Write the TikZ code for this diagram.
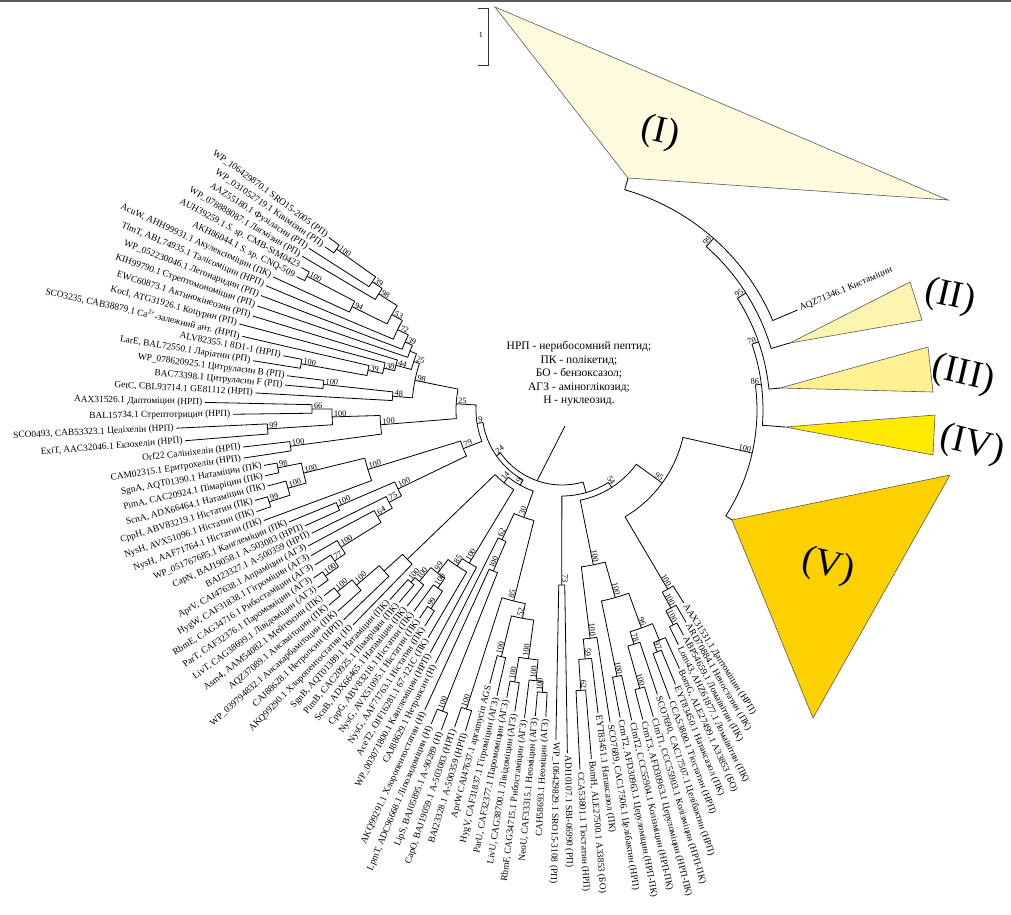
\documentclass[tikz,border=0pt]{standalone}
\usepackage{fontspec}
\setmainfont{Liberation Serif}
\def\setA#1#2{\expandafter\xdef\csname tA@#1\endcsname{#2}}
\def\setR#1#2{\expandafter\xdef\csname tR@#1\endcsname{#2}}
\def\getA#1{\csname tA@#1\endcsname}
\def\getR#1{\csname tR@#1\endcsname}
\tikzset{
  br/.style={draw=black, line width=0.8pt, line join=round},
  leaf/.style={font=\fontsize{9.4}{11}\selectfont, inner sep=0pt},
  bs/.style={font=\fontsize{8.3}{9}\selectfont, inner sep=0.3pt},
  clade/.style={draw=black!65, line width=0.6pt},
  cladelab/.style={font=\fontsize{38}{40}\selectfont, rotate=-13},
}
% leaf: name, index, tip radius, side, text
\newcommand\lf[5]{%
  \pgfmathsetmacro\lfA{143.5+(#2-1)*1.96}%
  \pgfmathsetmacro\lfR{#3+2.5}%
  \setA{#1}{\lfA}\setR{#1}{#3}%
  \if L#4%
    \pgfmathsetmacro\lfRot{\lfA-180}%
    \node[leaf,anchor=east,rotate=\lfRot] (#1) at (\lfA:\lfR) {#5};%
  \else
    \node[leaf,anchor=west,rotate=\lfA] (#1) at (\lfA:\lfR) {#5};%
  \fi}
% internal node: name, child1, child2, radius, bootstrap, side
\newcommand\nd[6]{%
  \edef\ndA{\getA{#2}}\edef\ndB{\getA{#3}}%
  \edef\ndRa{\getR{#2}}\edef\ndRb{\getR{#3}}%
  \pgfmathsetmacro\ndM{(\ndA+\ndB)/2}%
  \setA{#1}{\ndM}\setR{#1}{#4}%
  \draw[br] (\ndA:\ndRa) -- (\ndA:#4) arc[start angle=\ndA, end angle=\ndB, radius=#4pt] -- (\ndB:\ndRb);%
  \coordinate (#1) at (\ndM:#4);%
  \pgfmathsetmacro\ndL{#4-1.5}%
  \if L#6%
    \pgfmathsetmacro\ndRot{\ndM-180}%
    \node[bs,anchor=south west,rotate=\ndRot] (#1b) at (\ndM:\ndL) {#5};%
  \else
    \node[bs,anchor=south east,rotate=\ndM] (#1b) at (\ndM:\ndL) {#5};%
  \fi}
\begin{document}
\begin{tikzpicture}[x=1pt,y=1pt]
\useasboundingbox (-562,-504) rectangle (449,410);
\fill[white] (-562,-504) rectangle (449,410);
\fill[black!65] (-562,407.8) rectangle (449,410);
% collapsed clades
\draw[clade, fill={rgb,255:red,254;green,250;blue,222}] (66,232) -- (-67,403) -- (386,210) -- cycle;
\draw[clade, fill={rgb,255:red,255;green,243;blue,176}] (228,67) -- (348,128) -- (360,90) -- cycle;
\draw[clade, fill={rgb,255:red,255;green,240;blue,145}] (218,22) -- (366,63) -- (371,18) -- cycle;
\draw[clade, fill={rgb,255:red,255;green,234;blue,0}] (223,-17) -- (373,-5) -- (371,-45) -- cycle;
\draw[clade, fill={rgb,255:red,253;green,208;blue,0}] (170,-110) -- (388,-65) -- (251,-308) -- cycle;
\node[cladelab] (labI) at (98,277) {(I)};
\node[cladelab] (labII) at (388,113) {(II)};
\node[cladelab] (labIII) at (401,35) {(III)};
\node[cladelab] (labIV) at (410,-35) {(IV)};
\node[cladelab] (labV) at (266,-157) {(V)};
% scale bar
\draw[black!80, line width=0.7pt] (-84,402) -- (-74,402) -- (-74,345) -- (-84,345);
\node[font=\fontsize{8}{9}\selectfont] (scale) at (-81,375) {1};
% legend
\node[align=center, font=\fontsize{11.5}{13.5}\selectfont] (legend) at (17,36)
  {НРП - нерибосомний пептид;\\ ПК - полікетид;\\ БО - бензоксазол;\\ АГЗ - аміноглікозид;\\ Н - нуклеозид.};
% leaves
\lf{l1}{1}{290}{L}{WP\_106429870.1 SRO15-2005 (РП)}
\lf{l2}{2}{288}{L}{WP\_031052719.1 Ківімізин (РП)}
\lf{l3}{3}{300}{L}{AAZ55180.1 Фузіласин (РП)}
\lf{l4}{4}{302}{L}{WP\_078888087.1 Лагмізин (РП)}
\lf{l5}{5}{297}{L}{AUH39259.1 \textit{S.} sp. CMB-StM0423}
\lf{l6}{6}{297}{L}{AKH86044.1 \textit{S.} sp. CNQ-509}
\lf{l7}{7}{318}{L}{AcuW, AHH99931.1 Акулексиміцин (ПК)}
\lf{l8}{8}{321}{L}{TlmT, ABL74935.1 Талісоміцин (НРП)}
\lf{l9}{9}{322}{L}{WP\_052230046.1 Легонаридин (РП)}
\lf{l10}{10}{322}{L}{KIH99790.1 Стрептомономіцин (РП)}
\lf{l11}{11}{323}{L}{EWC60873.1 Актинокінеозин (РП)}
\lf{l12}{12}{334}{L}{KocI, ATG31926.1 Коцурин (РП)}
\lf{l13}{13}{328}{L}{SCO3235, CAB38879.1 Ca\textsuperscript{2+}-залежний ант. (НРП)}
\lf{l14}{14}{284}{L}{ALV82355.1 8D1-1 (НРП)}
\lf{l15}{15}{313}{L}{LarE, BAL72550.1 Ларіатин (РП)}
\lf{l16}{16}{277}{L}{WP\_078620925.1 Цитруласин B (РП)}
\lf{l17}{17}{278}{L}{BAC73398.1 Цитруласин F (РП)}
\lf{l18}{18}{307}{L}{GetC, CBL93714.1 GE81112 (НРП)}
\lf{l19}{19}{357}{L}{AAX31526.1 Даптоміцин (НРП)}
\lf{l20}{20}{329}{L}{BAL15734.1 Стрептотрицин (НРП)}
\lf{l21}{21}{386}{L}{SCO0493, CAB53323.1 Целіхелін (НРП)}
\lf{l22}{22}{378}{L}{ExiT, AAC32046.1 Екзохелін (НРП)}
\lf{l23}{23}{321}{L}{Orf22 Салініхелін (НРП)}
\lf{l24}{24}{322}{L}{CAM02315.1 Еритрохелін (НРП)}
\lf{l25}{25}{303}{L}{SgnA, AQT01390.1 Натаміцин (ПК)}
\lf{l26}{26}{304}{L}{PimA, CAC20924.1 Пімаріцин (ПК)}
\lf{l27}{27}{304}{L}{ScnA, ADX66464.1 Натаміцин (ПК)}
\lf{l28}{28}{320}{L}{CppH, ABV83219.1 Ністатин (ПК)}
\lf{l29}{29}{322}{L}{NysH, AVX51096.1 Ністатин (ПК)}
\lf{l30}{30}{318}{L}{NysH, AAF71764.1 Ністатин (ПК)}
\lf{l31}{31}{295}{L}{WP\_051767685.1 Канглеміцин (ПК)}
\lf{l32}{32}{282}{L}{CapN, BAJ19058.1 A-503083 (НРП)}
\lf{l33}{33}{279}{L}{BAI23327.1 A-500359 (НРП)}
\lf{l34}{34}{288}{L}{AprV, CAI47638.1 Апраміцин (АГЗ)}
\lf{l35}{35}{290}{L}{HygW, CAF31838.1 Гігроміцин (АГЗ)}
\lf{l36}{36}{292}{L}{RbmE, CAG34716.1 Рибостаміцин (АГЗ)}
\lf{l37}{37}{300}{L}{ParT, CAF32376.1 Паромоміцин (АГЗ)}
\lf{l38}{38}{302}{L}{LivT, CAG38699.1 Лівідоміцин (АГЗ)}
\lf{l39}{39}{302}{L}{Asm4, AAM54082.1 Мейтензин (ПК)}
\lf{l40}{40}{304}{L}{AQZ37089.1 Ансамітоцин (ПК)}
\lf{l41}{41}{301}{L}{WP\_039794832.1 Ансакарбамітоцин (ПК)}
\lf{l42}{42}{303}{L}{CAJ88628.1 Нетропсин (НРП)}
\lf{l43}{43}{300}{L}{AKQ99290.1 Хлоропентостатин (Н)}
\lf{l44}{44}{256}{L}{SgnB, AQT01389.1 Натаміцин (ПК)}
\lf{l45}{45}{252}{L}{PimB, CAC20925.1 Пімаріцин (ПК)}
\lf{l46}{46}{250}{L}{ScnB, ADX66465.1 Натаміцин (ПК)}
\lf{l47}{47}{250}{L}{CppG, ABV83218.1 Ністатин (ПК)}
\lf{l48}{48}{252}{L}{NysG, AVX51095.1 Ністатин (ПК)}
\lf{l49}{49}{256}{L}{NysG, AAF71763.1 Ністатин (ПК)}
\lf{l50}{50}{264}{L}{AceT2, OJF16281.1 67-121C (ПК)}
\lf{l51}{51}{276}{L}{WP\_003071800.1 Канглеміцин (НРП)}
\lf{l52}{52}{283}{L}{CAJ88629.1 Нетропсин (Н)}
\lf{l53}{53}{330}{L}{AKQ99291.1 Хлоропентостатин (Н)}
\lf{l54}{54}{340}{L}{LpmT, ADC96668.1 Ліпозидоміцин (Н)}
\lf{l55}{55}{342}{L}{LipS, BAJ05895.1 A-90289 (Н)}
\lf{l56}{56}{335}{L}{CapO, BAJ19059.1 A-503083 (НРП)}
\lf{l57}{57}{335}{L}{BAI23328.1 A-500359 (НРП)}
\lf{l58}{58}{283}{L}{AprW CAI47637.1 apramycin AGS}
\lf{l59}{59}{293}{L}{HygV, CAF31837.1 Гігроміцин (АГЗ)}
\lf{l60}{60}{293}{L}{ParU, CAF32377.1 Паромоміцин (АГЗ)}
\lf{l61}{61}{305}{L}{LivU, CAG38700.1 Лівідоміцин (АГЗ)}
\lf{l62}{62}{310}{L}{RbmF, CAG34715.1 Рибостаміцин (АГЗ)}
\lf{l63}{63}{307}{L}{NeoU, CAF33315.1 Неоміцин (АГЗ)}
\lf{l64}{64}{307}{L}{CAH58693.1 Неоміцин (АГЗ)}
\lf{l65}{65}{330}{R}{WP\_106429829.1 SRO15-3108 (РП)}
\lf{l66}{66}{343}{R}{ADI10107.1 SBI-06990 (РП)}
\lf{l67}{67}{360}{R}{CCA53801.1 Тіостатин (НРП)}
\lf{l68}{68}{350}{R}{BomH, ALE27500.1 A33853 (БО)}
\lf{l69}{69}{305}{R}{EYT83451.1 Натаксазол (ПК)}
\lf{l70}{70}{316}{R}{SCO7689, CAC17506.1 Целібактин (НРП)}
\lf{l71}{71}{313}{R}{CrmT2, AFD30963.1 Церуломіцин (НРП-ПК)}
\lf{l72}{72}{318}{R}{ClmT2, CCC55904.1 Колізміцин (НРП-ПК)}
\lf{l73}{73}{320}{R}{CrmT3, AFD30963.1 Церуломіцин (НРП-ПК)}
\lf{l74}{74}{320}{R}{ClmT1, CCC55903.1 Колізміцин (НРП-ПК)}
\lf{l75}{75}{300}{R}{SCO7690, CAC17507.1 Целібактин (НРП)}
\lf{l76}{76}{309}{R}{CCA53800.1 Тіостатин (НРП)}
\lf{l77}{77}{297}{R}{EYT83450.1 Натаксазол (ПК)}
\lf{l78}{78}{284}{R}{BomG, ALE27499.1 A33853 (БО)}
\lf{l79}{79}{262}{R}{Lom43, AHZ61877.1 Ломаївітин (ПК)}
\lf{l80}{80}{256}{R}{ABP54659.1 Ломаївітин (ПК)}
\lf{l81}{81}{246}{R}{ARD70884.1 Неностатин (ПК)}
\lf{l82}{82}{228}{R}{AAX31531.1 Даптоміцин (НРП)}
\setA{aqz}{383}\setR{aqz}{256}
\node[leaf,anchor=west,rotate=23] (aqz) at (383:258.5) {AQZ71346.1 Кистаміцин};
\setA{cI}{434.1}\setR{cI}{241}
\setA{cII}{376.4}\setR{cII}{237.6}
\setA{cIII}{365.76}\setR{cIII}{219}
\setA{cIV}{355.64}\setR{cIV}{223.6}
\setA{cV}{327.1}\setR{cV}{202.5}
% top clade
\nd{a1}{l1}{l2}{277}{100}{L}
\nd{a2}{a1}{l3}{229}{39}{L}
\nd{a3}{a2}{l4}{217}{98}{L}
\nd{a4}{l5}{l6}{288}{100}{L}
\nd{a5}{a4}{l7}{234}{94}{L}
\nd{a6}{a3}{a5}{195}{53}{L}
\nd{a7}{a6}{l8}{183}{72}{L}
\nd{a8}{a7}{l9}{171}{39}{L}
\nd{a9}{a8}{l10}{163}{}{L}
\nd{b1}{l14}{l15}{265}{100}{L}
\nd{b2}{l13}{b1}{198}{39}{L}
\nd{b3}{l12}{b2}{183}{38}{L}
\nd{b4}{l11}{b3}{172}{44}{L}
\nd{n25a}{a9}{b4}{156}{25}{L}
\nd{c48x}{l16}{l17}{240}{100}{L}
\nd{c48}{c48x}{l18}{170}{48}{L}
\nd{n98}{n25a}{c48}{150}{98}{L}
\nd{c1}{l19}{l20}{250}{66}{L}
\nd{c2}{l21}{l22}{295}{99}{L}
\nd{c3}{c1}{c2}{230}{100}{L}
\nd{c4}{l23}{l24}{274}{100}{L}
\nd{c6}{c3}{c4}{182}{100}{L}
\nd{n25}{n98}{c6}{106}{25}{L}
\nd{s1}{l25}{l26}{290}{98}{L}
\nd{s2}{l28}{l29}{307}{99}{L}
\nd{s3}{l27}{s2}{285}{100}{L}
\nd{s4}{s1}{s3}{266}{100}{L}
\nd{s5}{s4}{l30}{203}{100}{L}
\nd{u1}{l31}{l32}{244}{100}{L}
\nd{u2}{l37}{l38}{289}{100}{L}
\nd{u3}{l36}{u2}{273}{77}{L}
\nd{u4}{l35}{u3}{260}{100}{L}
\nd{u5}{l34}{u4}{213}{64}{L}
\nd{u6}{l33}{u5}{196}{75}{L}
\nd{u7}{u1}{u6}{182}{100}{L}
\nd{n79}{s5}{u7}{106}{79}{L}
\nd{n9a}{n25}{n79}{86}{9}{L}
\nd{m1}{l39}{l40}{289}{100}{L}
\nd{m2}{m1}{l41}{270}{100}{L}
\nd{m3}{m2}{l42}{240}{}{L}
\nd{m4}{m3}{l43}{215}{}{L}
\nd{p1}{l44}{l45}{229}{100}{L}
\nd{p2}{p1}{l46}{223}{100}{L}
\nd{p3}{l48}{l49}{238}{99}{L}
\nd{p4}{l47}{p3}{217}{100}{L}
\nd{p5}{p2}{p4}{205}{99}{L}
\nd{p6}{p5}{l50}{188}{85}{L}
\nd{p7}{p6}{l51}{179}{100}{L}
\nd{n14}{m4}{p7}{93}{14}{L}
\nd{q1}{l54}{l55}{324}{100}{L}
\nd{q2}{l53}{q1}{175}{100}{L}
\nd{x1}{l52}{q2}{143}{62}{L}
\nd{v1}{l56}{l57}{314}{100}{L}
\nd{v2}{l58}{l59}{254}{100}{L}
\nd{v3}{l60}{l61}{276}{100}{L}
\nd{v4}{l63}{l64}{283}{100}{L}
\nd{v5}{l62}{v4}{272}{100}{L}
\nd{w1}{v3}{v5}{251}{100}{L}
\nd{w2}{v2}{w1}{212}{52}{L}
\nd{w3}{v1}{w2}{197}{85}{L}
\nd{y1}{x1}{w3}{114}{30}{L}
\nd{n9b}{n14}{y1}{86}{9}{L}
\nd{n24}{n9a}{n9b}{80}{24}{L}
% right side
\nd{n73}{l65}{l66}{175}{73}{R}
\nd{h1}{l67}{l68}{281}{62}{R}
\nd{h2}{h1}{l69}{250}{59}{R}
\nd{h3}{h2}{l70}{230}{100}{R}
\nd{g1}{l71}{l72}{272}{100}{R}
\nd{g2}{l73}{l74}{289}{100}{R}
\nd{g3}{g2}{l75}{245}{78}{R}
\nd{g4}{l76}{l77}{260}{97}{R}
\nd{g5}{g4}{l78}{250}{}{R}
\nd{g6}{g3}{g5}{232}{96}{R}
\nd{g7}{g1}{g6}{195}{100}{R}
\nd{h4}{h3}{g7}{158}{100}{R}
\nd{f1}{l79}{l80}{242}{100}{R}
\nd{f2}{f1}{l81}{226}{100}{R}
\nd{f3}{f2}{l82}{208}{100}{R}
\nd{Y1}{aqz}{cI}{229}{99}{R}
\nd{Y2}{cII}{Y1}{218}{95}{R}
\nd{Y3}{cIII}{Y2}{208}{70}{R}
\nd{Y4}{cIV}{Y3}{201}{86}{R}
\nd{Y5}{cV}{Y4}{195}{100}{R}
\nd{n95}{f3}{Y5}{124}{95}{R}
\nd{n54}{h4}{n95}{92}{54}{R}
\nd{S}{n73}{n54}{86}{}{R}
\nd{R}{n24}{S}{75}{}{L}
\coordinate (rootend) at (3,-16);
\draw[br] (R) -- (rootend);
\end{tikzpicture}
\end{document}
